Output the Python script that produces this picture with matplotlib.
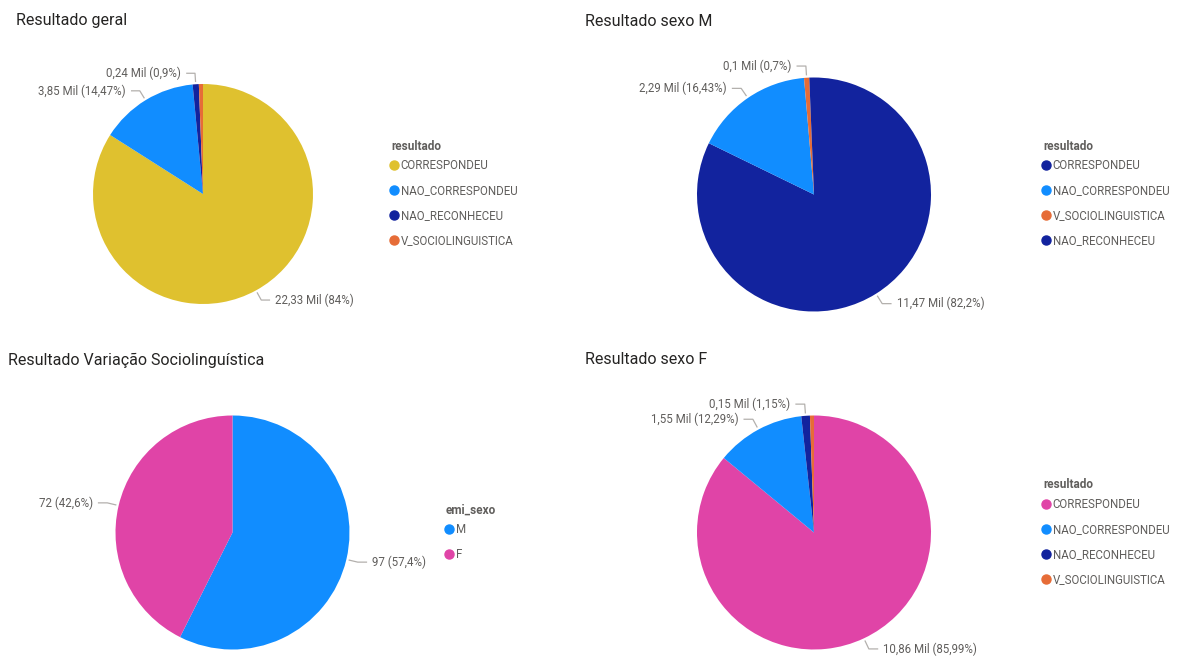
import numpy as np
import matplotlib
matplotlib.use('Agg')
import matplotlib.pyplot as plt
from matplotlib.lines import Line2D

W, H = 1198, 659

# Dados de cada painel (valores em milhares, exceto variação sociolinguística)
geral_cats = ["CORRESPONDEU", "NAO_CORRESPONDEU", "NAO_RECONHECEU", "V_SOCIOLINGUISTICA"]
geral_vals = [22.33, 3.85, 0.24, 0.16]
geral_pcts = [84, 14.47, 0.9, None]

sexo_m_cats = ["CORRESPONDEU", "NAO_CORRESPONDEU", "V_SOCIOLINGUISTICA", "NAO_RECONHECEU"]
sexo_m_vals = [11.47, 2.29, 0.1, 0.09]
sexo_m_pcts = [82.2, 16.43, 0.7, None]

socio_cats = ["M", "F"]
socio_vals = [97, 72]
socio_pcts = [57.4, 42.6]

sexo_f_cats = ["CORRESPONDEU", "NAO_CORRESPONDEU", "NAO_RECONHECEU", "V_SOCIOLINGUISTICA"]
sexo_f_vals = [10.86, 1.55, 0.15, 0.07]
sexo_f_pcts = [85.99, 12.29, 1.15, None]

YELLOW = "#DFC12F"
BLUE = "#118DFF"
NAVY = "#12239E"
ORANGE = "#E66C37"
PINK = "#E044A7"

TEXT_DARK = "#252423"
TEXT_GRAY = "#605E5C"
LINE_GRAY = "#B3B0AD"

plt.rcParams['font.family'] = ['Roboto', 'DejaVu Sans']


def fmt_num(v):
    s = f"{v:.2f}".rstrip('0').rstrip('.')
    return s.replace('.', ',')


def fig_box(cx, cy, r):
    return [(cx - r) / W, 1 - (cy + r) / H, 2 * r / W, 2 * r / H]


def draw_pie(fig, cx, cy, r, vals, pcts, colors, unit):
    ax = fig.add_axes(fig_box(cx, cy, r))
    wedges, _ = ax.pie(vals, colors=colors, startangle=90, counterclock=False,
                       radius=1, wedgeprops=dict(linewidth=0))
    ax.set_xlim(-1, 1)
    ax.set_ylim(-1, 1)
    ax.axis('off')

    for w, v, p in zip(wedges, vals, pcts):
        if p is None:
            continue
        mid = np.deg2rad((w.theta1 + w.theta2) / 2)
        dx, dy = np.cos(mid), np.sin(mid)
        side = 1 if dx > 0 else -1
        x0, y0 = 1.02 * dx, 1.02 * dy
        x1, y1 = 1.1 * dx, 1.1 * dy
        x2 = x1 + side * 0.08
        ax.plot([x0, x1, x2], [y0, y1, y1], color=LINE_GRAY, lw=0.9,
                clip_on=False, solid_capstyle='butt')
        label = f"{fmt_num(v)}{unit} ({fmt_num(p)}%)"
        ax.text(x2 + side * 0.045, y1, label, ha='left' if side > 0 else 'right',
                va='center', fontsize=8.3, color=TEXT_GRAY, clip_on=False)
    return ax


def draw_legend(fig, x, y, title, cats, colors):
    # título da legenda à parte, itens logo abaixo
    fig.text(x / W, 1 - y / H, title, fontsize=8.5, fontweight='bold',
             color=TEXT_GRAY, ha='left', va='center')
    handles = [Line2D([], [], marker='o', linestyle='none', markersize=6.5,
                      markerfacecolor=c, markeredgecolor=c) for c in colors]
    leg = fig.legend(handles, cats, loc='upper left',
                     bbox_to_anchor=(x / W, 1 - (y + 13) / H),
                     bbox_transform=fig.transFigure,
                     frameon=False, fontsize=8.3,
                     handlelength=0.6, handletextpad=0.25, labelspacing=1.03,
                     borderpad=0, borderaxespad=0)
    for t in leg.get_texts():
        t.set_color(TEXT_GRAY)
    return leg


fig = plt.figure(figsize=(W / 100, H / 100), dpi=100)
fig.patch.set_facecolor('white')

title_kw = dict(fontsize=11.5, color=TEXT_DARK, va='center', ha='left')
fig.text(16 / W, 1 - 21 / H, "Resultado geral", **title_kw)
fig.text(585 / W, 1 - 21 / H, "Resultado sexo M", **title_kw)
fig.text(8 / W, 1 - 360 / H, "Resultado Variação Sociolinguística", **title_kw)
fig.text(585 / W, 1 - 360 / H, "Resultado sexo F", **title_kw)

draw_pie(fig, 203, 194, 110, geral_vals, geral_pcts, [YELLOW, BLUE, NAVY, ORANGE], " Mil")
draw_legend(fig, 391, 146, "resultado", geral_cats, [YELLOW, BLUE, NAVY, ORANGE])

draw_pie(fig, 814, 194.5, 117, sexo_m_vals, sexo_m_pcts, [NAVY, BLUE, ORANGE, NAVY], " Mil")
draw_legend(fig, 1043, 146, "resultado", sexo_m_cats, [NAVY, BLUE, ORANGE, NAVY])

draw_pie(fig, 232.5, 532.5, 117, socio_vals, socio_pcts, [BLUE, PINK], "")
draw_legend(fig, 446, 510, "emi_sexo", socio_cats, [BLUE, PINK])

draw_pie(fig, 814, 532.5, 117, sexo_f_vals, sexo_f_pcts, [PINK, BLUE, NAVY, ORANGE], " Mil")
draw_legend(fig, 1043, 485, "resultado", sexo_f_cats, [PINK, BLUE, NAVY, ORANGE])

fig.savefig("out.png", dpi=100, facecolor='white')
